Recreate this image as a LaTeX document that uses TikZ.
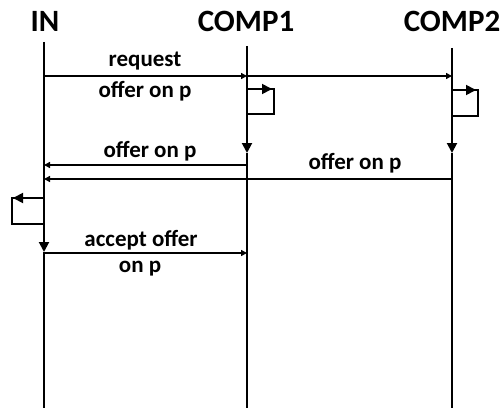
\documentclass[tikz,border=0pt]{standalone}
\usepackage{fontspec}
\setmainfont{Carlito}
\usetikzlibrary{arrows.meta}
\begin{document}
\begin{tikzpicture}[x=1pt,y=-1pt,
  line width=1.8pt,
  head/.style={font=\bfseries\fontsize{31}{31}\selectfont, inner sep=0pt},
  msg/.style={font=\bfseries\fontsize{23}{23}\selectfont, inner sep=0pt},
  lifeline/.style={line width=2pt},
  msgline/.style={line width=1.6pt, -{Triangle[length=6pt,width=6pt]}},
  bigtip/.style={-{Triangle[length=10pt,width=10pt]}},
]
\useasboundingbox (0,0) rectangle (503,412);

% participant headers
\node[head] (in) at (45,21.5) {IN};
\node[head] (c1) at (246,21.5) {COMP1};
\node[head] (c2) at (452,21.5) {COMP2};

% lifeline ends and activation arrow tips
\coordinate (inTop) at (44,42);   \coordinate (inAct) at (44,252);  \coordinate (inBot) at (44,408);
\coordinate (c1Top) at (247,46);  \coordinate (c1Act) at (247,153); \coordinate (c1Bot) at (247,408);
\coordinate (c2Top) at (452,48);  \coordinate (c2Act) at (452,153); \coordinate (c2Bot) at (452,408);

\draw[lifeline,bigtip] (inTop) -- (inAct);
\draw[lifeline] (inAct) -- (inBot);
\draw[lifeline,bigtip] (c1Top) -- (c1Act);
\draw[lifeline] (c1Act) -- (c1Bot);
\draw[lifeline,bigtip] (c2Top) -- (c2Act);
\draw[lifeline] (c2Act) -- (c2Bot);

% request broadcast
\coordinate (reqIn) at (44,76); \coordinate (reqC1) at (247,76); \coordinate (reqC2) at (452,76);
\draw[msgline] (reqIn) -- (reqC1);
\draw[msgline] (reqC1) -- (reqC2);
\node[msg] (lreq) at (145,61) {request};
\node[msg] (loff1) at (145,91) {offer on p};

% local processing loops on COMP1 and COMP2
\coordinate (l1a) at (247,89); \coordinate (l1b) at (274,89); \coordinate (l1c) at (274,114); \coordinate (l1d) at (247,114);
\draw (l1a) -- (l1b) -- (l1c) -- (l1d);
\draw[bigtip] (l1a) -- ([xshift=-2pt]l1b);
\coordinate (l2a) at (452,90); \coordinate (l2b) at (478,90); \coordinate (l2c) at (478,116); \coordinate (l2d) at (452,116);
\draw (l2a) -- (l2b) -- (l2c) -- (l2d);
\draw[bigtip] (l2a) -- ([xshift=-2pt]l2b);

% offers back to IN
\coordinate (o1C1) at (247,165); \coordinate (o1In) at (44,165);
\draw[msgline] (o1C1) -- (o1In);
\node[msg] (loff2) at (150,151) {offer on p};
\coordinate (o2C2) at (452,179); \coordinate (o2In) at (44,179);
\draw[msgline] (o2C2) -- (o2In);
\node[msg] (loff3) at (355,163) {offer on p};

% local processing loop on IN
\coordinate (l0a) at (44,198); \coordinate (l0b) at (12,198); \coordinate (l0c) at (12,224); \coordinate (l0d) at (44,224);
\draw (l0a) -- (l0b) -- (l0c) -- (l0d);
\draw[bigtip] (l0a) -- ([xshift=1pt]l0b);

% acceptance
\coordinate (accIn) at (44,253); \coordinate (accC1) at (247,253);
\draw[msgline] (accIn) -- (accC1);
\node[msg] (lacc1) at (141,240) {accept offer};
\node[msg] (lacc2) at (140,269) {on p};
\end{tikzpicture}
\end{document}
